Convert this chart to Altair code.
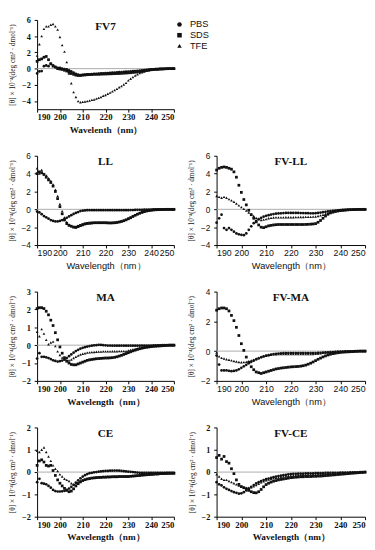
import altair as alt
import pandas as pd

WAVELENGTH = list(range(190, 251))
SERIES = ["PBS", "SDS", "TFE"]
X_TICKS = [190, 200, 210, 220, 230, 240, 250]
Y_TITLE = "[θ] × 10⁻⁴(deg cm² · dmol⁻¹)"

# ---------------- FV7 ----------------
FV7_PBS = [
    -0.6, -0.35, -0.3, 0.3, 0.4, 0.3, 0.6, 0.4, 0.2, 0.1,
    0.1, 0.0, -0.05, -0.1, -0.2, -0.35, -0.5, -0.65, -0.75, -0.8,
    -0.78, -0.75, -0.72, -0.7, -0.68, -0.66, -0.64, -0.62, -0.6, -0.58,
    -0.56, -0.54, -0.52, -0.5, -0.48, -0.46, -0.44, -0.42, -0.4, -0.38,
    -0.36, -0.34, -0.32, -0.3, -0.28, -0.25, -0.22, -0.19, -0.16, -0.13,
    -0.1, -0.08, -0.06, -0.05, -0.04, -0.03, -0.02, -0.01, 0.0, 0.0,
    0.0]
FV7_SDS = [
    0.9, 1.1, 1.2, 1.4, 1.5, 1.1, 0.6, 0.3, 0.2, 0.0,
    -0.05, -0.1, -0.2, -0.3, -0.45, -0.6, -0.7, -0.8, -0.85, -0.85,
    -0.8, -0.78, -0.75, -0.73, -0.72, -0.7, -0.7, -0.7, -0.68, -0.67,
    -0.66, -0.65, -0.64, -0.63, -0.62, -0.6, -0.6, -0.58, -0.56, -0.54,
    -0.52, -0.5, -0.47, -0.44, -0.4, -0.36, -0.32, -0.27, -0.22, -0.18,
    -0.14, -0.1, -0.08, -0.06, -0.04, -0.03, -0.02, -0.01, 0.0, 0.0,
    0.0]
FV7_TFE = [
    1.6, 3.0, 4.0, 4.9, 5.2, 5.2, 5.4, 5.5, 5.2, 4.8,
    3.9, 2.9, 2.1, 0.8, -0.6, -1.8, -2.9, -3.5, -4.0, -4.15,
    -4.1, -4.05, -4.0, -3.95, -3.85, -3.8, -3.7, -3.6, -3.5, -3.35,
    -3.25, -3.1, -2.95, -2.8, -2.65, -2.5, -2.3, -2.15, -1.95, -1.75,
    -1.45, -1.25, -1.05, -0.85, -0.7, -0.55, -0.45, -0.35, -0.27, -0.2,
    -0.16, -0.12, -0.09, -0.07, -0.05, -0.04, -0.03, -0.02, -0.01, 0.0,
    0.0]

# ---------------- LL ----------------
LL_PBS = [
    -0.25, -0.35, -0.55, -0.75, -0.9, -1.05, -1.2, -1.3, -1.35, -1.35,
    -1.3, -1.2, -1.1, -0.95, -0.8, -0.65, -0.52, -0.4, -0.3, -0.2,
    -0.15, -0.12, -0.1, -0.1, -0.1, -0.1, -0.1, -0.1, -0.1, -0.1,
    -0.1, -0.1, -0.1, -0.1, -0.1, -0.1, -0.1, -0.1, -0.1, -0.09,
    -0.09, -0.08, -0.08, -0.07, -0.06, -0.05, -0.05, -0.04, -0.03, -0.02,
    -0.02, -0.01, -0.01, 0.0, 0.0, 0.0, 0.0, 0.0, 0.0, 0.0,
    0.0]
LL_SDS = [
    4.0, 4.2, 4.1, 3.9, 3.6, 3.3, 3.0, 2.6, 2.0, 1.2,
    0.3, -0.5, -1.2, -1.6, -1.8, -1.9, -2.0, -2.0, -1.9, -1.8,
    -1.7, -1.62, -1.57, -1.54, -1.52, -1.5, -1.5, -1.5, -1.5, -1.5,
    -1.5, -1.52, -1.53, -1.52, -1.5, -1.47, -1.42, -1.36, -1.28, -1.18,
    -1.06, -0.94, -0.8, -0.67, -0.55, -0.44, -0.34, -0.26, -0.19, -0.14,
    -0.1, -0.07, -0.05, -0.04, -0.03, -0.02, -0.01, 0.0, 0.0, 0.0,
    0.0]
LL_TFE = [
    4.6, 4.0, 4.4, 4.0, 3.8, 3.5, 3.2, 2.8, 2.2, 1.5,
    0.6, -0.2, -0.9, -1.4, -1.7, -1.85, -1.95, -2.05, -1.95, -1.85,
    -1.75, -1.66, -1.6, -1.56, -1.53, -1.51, -1.49, -1.48, -1.47, -1.47,
    -1.47, -1.48, -1.49, -1.48, -1.46, -1.42, -1.37, -1.3, -1.22, -1.12,
    -1.0, -0.88, -0.75, -0.62, -0.5, -0.4, -0.31, -0.23, -0.17, -0.12,
    -0.09, -0.06, -0.04, -0.03, -0.02, -0.01, 0.0, 0.0, 0.0, 0.0,
    0.0]

# ---------------- FV-LL ----------------
FVLL_PBS = [
    -1.5, -1.0, -0.6, -2.1, -2.3, -2.1, -2.3, -2.5, -2.7, -2.8,
    -2.85, -2.9, -2.7, -2.3, -1.9, -1.55, -1.3, -1.1, -0.95, -0.83,
    -0.73, -0.65, -0.58, -0.53, -0.49, -0.46, -0.44, -0.42, -0.41, -0.4,
    -0.4, -0.4, -0.4, -0.41, -0.42, -0.42, -0.43, -0.43, -0.44, -0.44,
    -0.43, -0.4, -0.36, -0.32, -0.28, -0.24, -0.2, -0.17, -0.14, -0.11,
    -0.09, -0.07, -0.05, -0.04, -0.03, -0.02, -0.01, 0.0, 0.0, 0.0,
    0.0]
FVLL_SDS = [
    4.4, 4.6, 4.7, 4.75, 4.7, 4.6, 4.5, 4.2, 3.6, 2.7,
    1.9, 1.1, 0.5, -0.1, -0.6, -1.0, -1.4, -1.75, -2.0, -2.05,
    -1.95, -1.85, -1.8, -1.75, -1.72, -1.7, -1.7, -1.7, -1.7, -1.7,
    -1.7, -1.7, -1.7, -1.7, -1.7, -1.7, -1.69, -1.68, -1.66, -1.64,
    -1.6, -1.45, -1.25, -1.0, -0.75, -0.55, -0.4, -0.3, -0.22, -0.17,
    -0.13, -0.1, -0.08, -0.06, -0.04, -0.03, -0.02, -0.01, 0.0, 0.0,
    0.0]
FVLL_TFE = [
    1.5, 1.4, 1.3, 1.4, 1.3, 1.15, 1.0, 0.85, 0.65, 0.45,
    0.25, 0.05, -0.15, -0.35, -0.55, -0.75, -0.95, -1.1, -1.2, -1.15,
    -1.1, -1.0, -0.95, -0.92, -0.9, -0.9, -0.9, -0.9, -0.89, -0.89,
    -0.88, -0.88, -0.87, -0.87, -0.86, -0.86, -0.85, -0.85, -0.84, -0.82,
    -0.8, -0.75, -0.68, -0.6, -0.52, -0.44, -0.37, -0.3, -0.24, -0.19,
    -0.15, -0.11, -0.08, -0.06, -0.04, -0.03, -0.02, -0.01, 0.0, 0.0,
    0.0]

# ---------------- MA ----------------
MA_PBS = [
    -0.75, -0.45, -0.65, -0.65, -0.68, -0.72, -0.78, -0.85, -0.88, -0.92,
    -0.9, -0.86, -0.8, -0.72, -0.62, -0.52, -0.42, -0.33, -0.26, -0.2,
    -0.15, -0.11, -0.08, -0.05, -0.03, -0.01, 0.0, 0.02, 0.01, 0.0,
    -0.01, -0.02, -0.02, -0.03, -0.03, -0.03, -0.03, -0.03, -0.03, -0.03,
    -0.03, -0.03, -0.03, -0.03, -0.03, -0.03, -0.02, -0.02, -0.02, -0.02,
    -0.02, -0.01, -0.01, -0.01, -0.01, 0.0, 0.0, 0.0, 0.0, 0.0,
    0.0]
MA_SDS = [
    2.05, 2.1, 2.1, 2.05, 1.9, 1.7, 1.4, 1.1, 0.7, 0.3,
    -0.1, -0.45, -0.7, -0.9, -1.0, -1.08, -1.1, -1.1, -1.05, -1.0,
    -0.95, -0.9, -0.85, -0.82, -0.8, -0.78, -0.76, -0.75, -0.74, -0.73,
    -0.72, -0.72, -0.71, -0.7, -0.68, -0.65, -0.61, -0.57, -0.52, -0.47,
    -0.42, -0.37, -0.32, -0.28, -0.24, -0.2, -0.17, -0.14, -0.12, -0.1,
    -0.08, -0.07, -0.06, -0.05, -0.04, -0.03, -0.02, -0.01, 0.0, 0.0,
    0.0]
MA_TFE = [
    0.75, 0.5, 0.9, 0.65, 0.3, 0.05, 0.15, 0.2, -0.05, -0.35,
    -0.55, -0.7, -0.8, -0.85, -0.85, -0.8, -0.72, -0.65, -0.58, -0.52,
    -0.48, -0.45, -0.42, -0.4, -0.39, -0.38, -0.37, -0.36, -0.36, -0.35,
    -0.35, -0.35, -0.35, -0.34, -0.34, -0.34, -0.33, -0.33, -0.33, -0.33,
    -0.3, -0.27, -0.24, -0.21, -0.18, -0.15, -0.12, -0.1, -0.08, -0.06,
    -0.05, -0.04, -0.03, -0.02, -0.02, -0.01, 0.0, 0.0, 0.0, 0.0,
    0.0]

# ---------------- FV-MA ----------------
FVMA_PBS = [
    -0.3, -0.9, -1.3, -1.3, -1.3, -1.32, -1.35, -1.33, -1.3, -1.22,
    -1.12, -1.02, -0.92, -0.82, -0.72, -0.64, -0.56, -0.49, -0.42, -0.36,
    -0.31, -0.27, -0.23, -0.2, -0.18, -0.16, -0.15, -0.14, -0.14, -0.13,
    -0.13, -0.13, -0.13, -0.13, -0.13, -0.13, -0.13, -0.13, -0.13, -0.13,
    -0.13, -0.12, -0.11, -0.1, -0.09, -0.08, -0.07, -0.06, -0.05, -0.04,
    -0.03, -0.03, -0.02, -0.02, -0.01, -0.01, 0.0, 0.0, 0.0, 0.0,
    0.0]
FVMA_SDS = [
    2.75, 2.85, 2.9, 2.9, 2.85, 2.7, 2.4, 2.05, 1.6, 1.05,
    0.5, 0.05, -0.4, -0.75, -1.05, -1.25, -1.4, -1.45, -1.5, -1.45,
    -1.4, -1.35, -1.3, -1.25, -1.2, -1.17, -1.14, -1.12, -1.1, -1.08,
    -1.06, -1.05, -1.04, -1.03, -1.01, -0.98, -0.94, -0.88, -0.81, -0.73,
    -0.64, -0.55, -0.47, -0.39, -0.32, -0.26, -0.21, -0.17, -0.14, -0.11,
    -0.09, -0.07, -0.06, -0.05, -0.04, -0.03, -0.02, -0.01, 0.0, 0.0,
    0.0]
FVMA_TFE = [
    -0.1, -0.35, -0.45, -0.5, -0.55, -0.58, -0.62, -0.66, -0.7, -0.73,
    -0.75, -0.74, -0.72, -0.68, -0.63, -0.57, -0.5, -0.44, -0.38, -0.33,
    -0.29, -0.26, -0.24, -0.22, -0.21, -0.2, -0.2, -0.2, -0.2, -0.2,
    -0.2, -0.2, -0.2, -0.2, -0.2, -0.2, -0.2, -0.2, -0.2, -0.19,
    -0.18, -0.16, -0.14, -0.12, -0.1, -0.08, -0.07, -0.06, -0.05, -0.04,
    -0.03, -0.03, -0.02, -0.02, -0.01, -0.01, 0.0, 0.0, 0.0, 0.0,
    0.0]

# ---------------- CE ----------------
CE_PBS = [
    -0.45, -0.3, -0.5, -0.52, -0.55, -0.62, -0.7, -0.8, -0.85, -0.87,
    -0.87, -0.86, -0.84, -0.8, -0.74, -0.66, -0.57, -0.47, -0.37, -0.28,
    -0.2, -0.14, -0.09, -0.05, -0.03, -0.01, 0.0, 0.02, 0.03, 0.04,
    0.05, 0.05, 0.06, 0.06, 0.07, 0.07, 0.06, 0.05, 0.04, 0.03,
    0.02, 0.01, 0.0, -0.01, -0.02, -0.03, -0.04, -0.04, -0.04, -0.04,
    -0.04, -0.04, -0.04, -0.04, -0.04, -0.04, -0.04, -0.03, -0.03, -0.03,
    -0.03]
CE_SDS = [
    0.3, 0.5, 0.55, 0.45, 0.3, 0.27, 0.3, 0.07, -0.15, -0.35,
    -0.5, -0.62, -0.73, -0.82, -0.88, -0.85, -0.75, -0.62, -0.52, -0.44,
    -0.38, -0.34, -0.31, -0.29, -0.27, -0.26, -0.25, -0.24, -0.24, -0.23,
    -0.23, -0.22, -0.22, -0.21, -0.21, -0.21, -0.2, -0.2, -0.2, -0.2,
    -0.2, -0.19, -0.18, -0.17, -0.16, -0.15, -0.14, -0.13, -0.12, -0.11,
    -0.1, -0.09, -0.08, -0.08, -0.07, -0.06, -0.06, -0.05, -0.05, -0.05,
    -0.05]
CE_TFE = [
    0.95, 0.9, 1.0, 1.1, 0.9, 0.7, 0.5, 0.3, 0.15, 0.05,
    -0.1, -0.2, -0.3, -0.35, -0.4, -0.5, -0.55, -0.5, -0.45, -0.4,
    -0.36, -0.33, -0.3, -0.28, -0.26, -0.24, -0.23, -0.22, -0.21, -0.2,
    -0.2, -0.19, -0.19, -0.19, -0.18, -0.18, -0.18, -0.18, -0.18, -0.18,
    -0.18, -0.17, -0.16, -0.15, -0.14, -0.13, -0.12, -0.12, -0.11, -0.11,
    -0.1, -0.1, -0.09, -0.09, -0.08, -0.08, -0.07, -0.07, -0.06, -0.06,
    -0.05]

# ---------------- FV-CE ----------------
FVCE_PBS = [
    -0.45, -0.55, -0.6, -0.68, -0.75, -0.8, -0.85, -0.9, -0.93, -0.97,
    -0.95, -0.9, -0.82, -0.74, -0.66, -0.58, -0.51, -0.45, -0.4, -0.36,
    -0.32, -0.29, -0.26, -0.23, -0.2, -0.18, -0.16, -0.14, -0.12, -0.1,
    -0.09, -0.08, -0.08, -0.07, -0.07, -0.07, -0.06, -0.06, -0.06, -0.06,
    -0.05, -0.05, -0.05, -0.05, -0.04, -0.04, -0.04, -0.03, -0.03, -0.03,
    -0.02, -0.02, -0.02, -0.02, -0.01, -0.01, -0.01, -0.01, 0.0, 0.0,
    0.0]
FVCE_SDS = [
    0.65, 0.75, 0.58, 0.7, 0.47, 0.4, 0.15, -0.07, -0.35, -0.55,
    -0.65, -0.7, -0.75, -0.82, -0.88, -0.92, -0.93, -0.88, -0.78, -0.66,
    -0.56, -0.5, -0.45, -0.41, -0.38, -0.35, -0.33, -0.31, -0.29, -0.27,
    -0.25, -0.24, -0.23, -0.22, -0.21, -0.21, -0.2, -0.2, -0.2, -0.19,
    -0.19, -0.18, -0.18, -0.17, -0.16, -0.15, -0.14, -0.13, -0.12, -0.11,
    -0.1, -0.09, -0.08, -0.07, -0.06, -0.05, -0.04, -0.03, -0.02, -0.01,
    0.0]
FVCE_TFE = [
    -0.1, -0.2, -0.3, -0.35, -0.35, -0.4, -0.45, -0.5, -0.55, -0.6,
    -0.64, -0.68, -0.7, -0.7, -0.68, -0.64, -0.58, -0.52, -0.46, -0.41,
    -0.37, -0.34, -0.31, -0.28, -0.26, -0.24, -0.22, -0.2, -0.18, -0.17,
    -0.16, -0.15, -0.14, -0.13, -0.13, -0.12, -0.12, -0.11, -0.11, -0.1,
    -0.1, -0.1, -0.09, -0.09, -0.08, -0.08, -0.08, -0.07, -0.07, -0.06,
    -0.05, -0.05, -0.04, -0.04, -0.03, -0.03, -0.02, -0.02, -0.01, -0.01,
    0.0]

SERIF = "Liberation Serif"
SANS = "Liberation Sans"
W_LEFT, W_RIGHT, H = 141, 153, 92

LEGEND = alt.Legend(title=None, orient="none", legendX=142, legendY=0,
                    labelFont=SANS, labelFontSize=9.5, labelColor="#111",
                    symbolSize=22, symbolFillColor="#111", symbolStrokeColor="#111",
                    symbolStrokeWidth=0, rowPadding=0, labelOffset=6, padding=0)


def long_table(pbs, sds, tfe):
    rows = []
    for name, vals in zip(SERIES, (pbs, sds, tfe)):
        assert len(vals) == len(WAVELENGTH), name
        for w, v in zip(WAVELENGTH, vals):
            rows.append({"wavelength": w, "value": v, "series": name})
    return pd.DataFrame(rows)


def panel(title, pbs, sds, tfe, ydomain, yticks, xtitle, font, bold, width):
    weight = "bold" if bold else "normal"
    df = long_table(pbs, sds, tfe)
    xaxis = alt.Axis(values=X_TICKS, title=xtitle, grid=False, labelFont=font,
                     labelFontWeight=weight, labelFontSize=9, titleFont=font,
                     titleFontWeight=weight, titleFontSize=9.5, tickSize=3,
                     labelPadding=1, titlePadding=3, domainColor="#000",
                     tickColor="#000", labelColor="#111", titleColor="#111",
                     labelOverlap=False)
    yaxis = alt.Axis(values=yticks, title=Y_TITLE, grid=False, labelFont=font,
                     labelFontWeight=weight, labelFontSize=8.5, titleFont=SERIF,
                     titleFontWeight="normal", titleFontSize=7.5, tickSize=3,
                     labelPadding=4, titlePadding=5, domainColor="#000",
                     tickColor="#000", labelColor="#111", titleColor="#111",
                     labelOverlap=False)
    x = alt.X("wavelength:Q", scale=alt.Scale(domain=[190, 250], nice=False, zero=False), axis=xaxis)
    y = alt.Y("value:Q", scale=alt.Scale(domain=ydomain, nice=False, zero=False), axis=yaxis)
    zero = alt.Chart(pd.DataFrame({"value": [0]})).mark_rule(
        color="#aaaaaa", strokeWidth=1).encode(y=y)
    pts = alt.Chart(df).mark_point(filled=True, color="#111", opacity=1, size=8).encode(
        x=x, y=y,
        shape=alt.Shape("series:N", scale=alt.Scale(domain=SERIES, range=["circle", "square", "triangle-up"]),
                        legend=LEGEND),
    )
    label = alt.Chart(pd.DataFrame({"name": [title]})).mark_text(
        font=SERIF, fontSize=11.5, fontWeight="bold", color="#111",
        baseline="top", align="center").encode(
        text="name:N", x=alt.value(width / 2), y=alt.value(1))
    return alt.layer(zero, pts, label).properties(width=width, height=H)


fv7 = panel("FV7", FV7_PBS, FV7_SDS, FV7_TFE, [-5, 6], [-4, -2, 0, 2, 4, 6], "Wavelenth（nm）", SERIF, True, W_LEFT)
ll = panel("LL", LL_PBS, LL_SDS, LL_TFE, [-4, 6], [-4, -2, 0, 2, 4, 6], "Wavelength（nm）", SANS, False, W_LEFT)
fvll = panel("FV-LL", FVLL_PBS, FVLL_SDS, FVLL_TFE, [-4, 6], [-4, -2, 0, 2, 4, 6], "Wavelength（nm）", SANS, False, W_RIGHT)
ma = panel("MA", MA_PBS, MA_SDS, MA_TFE, [-2, 3], [-2, -1, 0, 1, 2, 3], "Wavelength（nm）", SERIF, True, W_LEFT)
fvma = panel("FV-MA", FVMA_PBS, FVMA_SDS, FVMA_TFE, [-2, 4], [-2, 0, 2, 4], "Wavelength（nm）", SANS, False, W_RIGHT)
ce = panel("CE", CE_PBS, CE_SDS, CE_TFE, [-2, 2], [-2, -1, 0, 1, 2], "Wavelength（nm）", SERIF, True, W_LEFT)
fvce = panel("FV-CE", FVCE_PBS, FVCE_SDS, FVCE_TFE, [-2, 2], [-2, -1, 0, 1, 2], "Wavelength（nm）", SERIF, True, W_RIGHT)

chart = alt.vconcat(
    fv7,
    alt.hconcat(ll, fvll, spacing=12),
    alt.hconcat(ma, fvma, spacing=12),
    alt.hconcat(ce, fvce, spacing=12),
    spacing=18,
).properties(padding=0).configure_view(stroke=None).configure_axis(labelOverlap=False)

chart.save("out.html", embed_options={"renderer": "svg", "actions": False})
